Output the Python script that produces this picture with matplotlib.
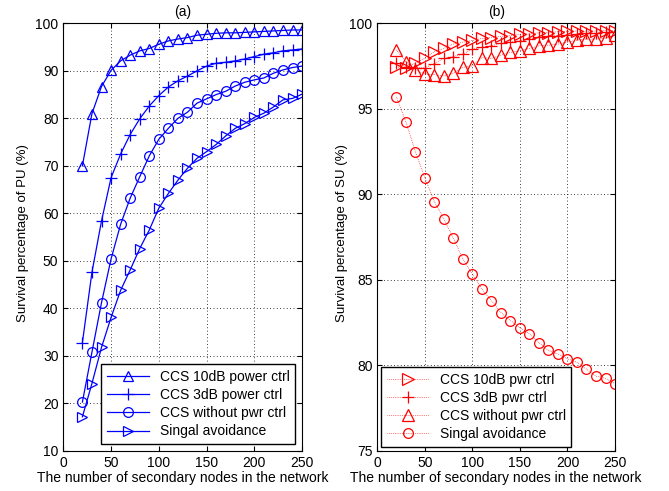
import numpy as np
import matplotlib.pyplot as plt

plt.rcParams['font.family'] = ['Liberation Sans', 'DejaVu Sans']

# number of secondary nodes
nodes = np.arange(20, 260, 10)

# (a) survival percentage of PU
pu_10db = [70.0, 81.0, 86.7, 90.1, 92.1, 93.3, 94.2, 94.7, 95.6, 96.3, 96.7, 97.0,
           97.5, 97.7, 97.9, 98.0, 98.0, 98.1, 98.2, 98.3, 98.4, 98.5, 98.6, 98.6]
pu_3db = [32.8, 47.6, 58.4, 67.5, 72.5, 76.6, 79.9, 82.6, 84.8, 86.6, 87.9, 88.9,
          90.0, 91.0, 91.6, 91.8, 92.1, 92.5, 93.0, 93.5, 93.8, 94.2, 94.4, 94.6]
pu_nopc = [20.3, 30.8, 41.2, 50.4, 57.7, 63.2, 67.7, 72.1, 75.6, 77.9, 80.0, 81.3,
           83.2, 84.1, 85.0, 85.7, 86.8, 87.6, 88.1, 88.5, 89.5, 90.2, 90.7, 91.0]
pu_avoid = [17.2, 24.2, 31.8, 38.1, 43.8, 48.1, 52.6, 56.5, 61.1, 64.2, 67.0, 69.5,
            71.6, 73.0, 74.5, 76.3, 77.9, 78.9, 80.2, 81.1, 82.4, 83.9, 84.2, 85.1]

# (b) survival percentage of SU
su_10db = [97.45, 97.4, 97.67, 97.95, 98.33, 98.53, 98.79, 98.9, 99.0, 99.12, 99.16, 99.24,
           99.28, 99.37, 99.37, 99.45, 99.45, 99.51, 99.53, 99.55, 99.53, 99.55, 99.57, 99.55]
su_3db = [97.7, 97.45, 97.4, 97.4, 97.65, 97.95, 98.06, 98.2, 98.49, 98.59, 98.69, 98.83,
          98.92, 98.98, 99.08, 99.18, 99.24, 99.28, 99.32, 99.37, 99.41, 99.43, 99.47, 99.51]
su_nopc = [98.45, 97.75, 97.28, 97.03, 97.0, 96.93, 97.09, 97.42, 97.51, 98.0, 97.95, 98.14,
           98.3, 98.4, 98.53, 98.69, 98.72, 98.79, 98.9, 99.02, 99.08, 99.08, 99.12, 99.31]
su_avoid = [95.7, 94.25, 92.5, 90.97, 89.58, 88.56, 87.43, 86.23, 85.33, 84.46, 83.79, 83.09,
            82.62, 82.21, 81.85, 81.33, 80.88, 80.66, 80.39, 80.18, 79.78, 79.37, 79.25, 78.94]

labels_a = ['CCS 10dB power ctrl', 'CCS 3dB power ctrl', 'CCS without pwr ctrl', 'Singal avoidance']
labels_b = ['CCS 10dB pwr ctrl', 'CCS 3dB pwr ctrl', 'CCS without pwr ctrl', 'Singal avoidance']

fig = plt.figure(figsize=(6.69, 4.91), dpi=100)
ax1 = fig.add_axes([0.0946, 0.0815, 0.357, 0.871])
ax2 = fig.add_axes([0.564, 0.0815, 0.3553, 0.871])

########## (a) ##########
blue = '#0000ff'
ax1.plot(nodes, pu_10db, '-^', color=blue, mfc='none', ms=7, lw=0.9, mew=0.9, label=labels_a[0])
ax1.plot(nodes, pu_3db, '-+', color=blue, ms=8, lw=0.9, mew=0.9, label=labels_a[1])
ax1.plot(nodes, pu_nopc, '-o', color=blue, mfc='none', ms=7, lw=0.9, mew=0.9, label=labels_a[2])
ax1.plot(nodes, pu_avoid, '->', color=blue, mfc='none', ms=7, lw=0.9, mew=0.9, label=labels_a[3])
ax1.set_xlim(0, 250)
ax1.set_ylim(10, 100)
ax1.set_xticks(np.arange(0, 251, 50))
ax1.set_yticks(np.arange(10, 101, 10))
ax1.set_title('(a)', fontsize=10, pad=5)
ax1.set_xlabel('The number of secondary nodes in the network', fontsize=10, labelpad=1)
ax1.set_ylabel('Survival percentage of PU (%)', fontsize=9.5)
ax1.yaxis.set_label_coords(-0.143, 0.51)
ax1.legend(loc='lower right', fontsize=10, fancybox=False, edgecolor='black',
           framealpha=1, handlelength=3, borderaxespad=0.5, borderpad=0.4, labelspacing=0.3)

########## (b) ##########
red = '#ff0000'
ax2.plot(nodes, su_10db, ':>', color=red, mfc='none', ms=8, lw=0.5, mew=0.9, label=labels_b[0])
ax2.plot(nodes, su_3db, ':+', color=red, ms=8, lw=0.5, mew=0.9, label=labels_b[1])
ax2.plot(nodes, su_nopc, ':^', color=red, mfc='none', ms=8, lw=0.5, mew=0.9, label=labels_b[2])
ax2.plot(nodes, su_avoid, ':o', color=red, mfc='none', ms=7, lw=0.5, mew=0.9, label=labels_b[3])
ax2.set_xlim(0, 250)
ax2.set_ylim(75, 100)
ax2.set_xticks(np.arange(0, 251, 50))
ax2.set_yticks(np.arange(75, 101, 5))
ax2.set_title('(b)', fontsize=10, pad=5)
ax2.set_xlabel('The number of secondary nodes in the network', fontsize=10, labelpad=1)
ax2.set_ylabel('Survival percentage of SU (%)', fontsize=9.5)
ax2.yaxis.set_label_coords(-0.122, 0.51)
ax2.legend(loc='lower left', fontsize=10, fancybox=False, edgecolor='black',
           framealpha=1, handlelength=3, borderaxespad=0.3, borderpad=0.4, labelspacing=0.3)

for ax in (ax1, ax2):
    ax.grid(True, linestyle=(0, (1, 3)), color='black', lw=0.6)
    ax.tick_params(direction='in', top=True, right=True, labelsize=10)
    for s in ax.spines.values():
        s.set_linewidth(0.8)

fig.savefig('out.png', dpi=100)
